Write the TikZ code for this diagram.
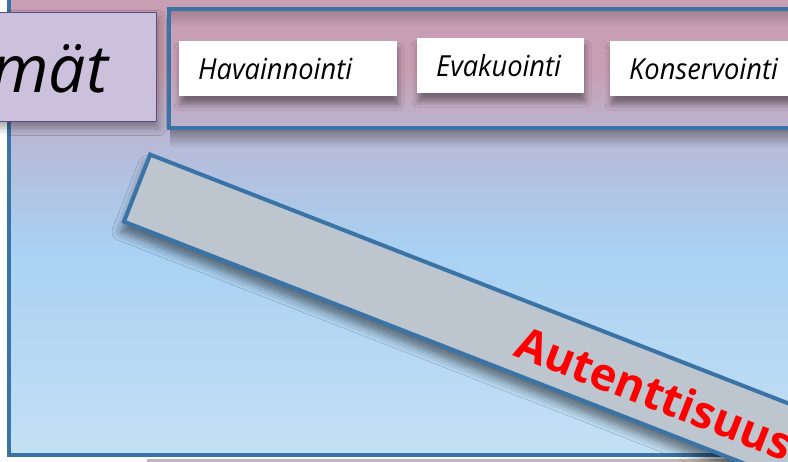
\documentclass[tikz,border=0pt]{standalone}
\usepackage{fontspec}
\setmainfont{Open Sans}
\newfontfamily\tabfont[FakeStretch=0.94]{Open Sans}
\usetikzlibrary{shadows.blur,fadings}

\definecolor{bgpink}{HTML}{C89EB2}
\definecolor{bgmid}{HTML}{B6BCDA}
\definecolor{bgblue}{HTML}{A9D1F3}
\definecolor{bglight}{HTML}{C4E0F4}
\definecolor{edgeblue}{HTML}{3A74A7}
\definecolor{catfill}{HTML}{CCC1DC}
\definecolor{catedge}{HTML}{5C4C7E}
\definecolor{barfill}{HTML}{BDC6CE}

\begin{document}
\begin{tikzpicture}[x=1pt, y=-1pt,
  tab/.style={fill=white, anchor=north west, inner xsep=19pt, inner ysep=0pt, align=left,
    minimum height=55pt, font=\tabfont\itshape\fontsize{29}{32}\selectfont,
    blur shadow={shadow xshift=1pt, shadow yshift=-8pt, shadow opacity=40, shadow blur radius=6pt}},
  framebox/.style={draw=edgeblue, line width=4pt, anchor=north west, inner sep=0pt},
  catbox/.style={draw=catedge, fill=catfill, line width=1.5pt, anchor=north east, inner sep=0pt,
    blur shadow={shadow xshift=2pt, shadow yshift=-6pt, shadow opacity=35, shadow blur radius=8pt}},
  bar/.style={draw=edgeblue, fill=barfill, line width=4pt, inner sep=0pt, rotate=-21.3,
    blur shadow={shadow xshift=-3pt, shadow yshift=-10pt, shadow opacity=50, shadow blur radius=9pt}}]
  \clip (0,0) rectangle (788,462);

  % Background panel (pink at the top, blue below)
  \shade[top color=bgpink, bottom color=bgpink] (9,-30) rectangle (800,70);
  \shade[top color=bgpink, bottom color=bgmid] (9,70) rectangle (800,150);
  \shade[top color=bgmid, bottom color=bgblue] (9,150) rectangle (800,250);
  \shade[top color=bgblue, bottom color=bglight] (9,250) rectangle (800,455);
  \draw[edgeblue, line width=4pt] (9,-30) rectangle (800,455);
  \fill[gray!55] (147,459) rectangle (788,462);

  % Frame round the three steps, with its shadows
  \fill[black, opacity=.35, path fading=south] (170,129) rectangle (830,147);
  \fill[black, opacity=.2, path fading=south] (168,9) rectangle (830,26);
  \node[framebox, minimum width=700pt, minimum height=119pt] (steps) at (167,7) {};

  % Title box, cut at the left edge
  \node[catbox, minimum width=220pt, minimum height=109pt] (cat) at (157,12) {};
  \node[anchor=base east, inner sep=0pt, font=\itshape\fontsize{66}{72}\selectfont] (catlbl) at (108,93) {mät};

  % The three steps
  \node[tab, text width=180pt] (hav) at (179,41) {Havainnointi};
  \node[tab, text width=129pt] (eva) at (417,38) {Evakuointi};
  \node[tab, text width=200pt] (kon) at (610,41) {Konservointi};

  % Slanted bar
  \node[bar, anchor=north west, minimum width=820pt, minimum height=72pt] (aut) at (149,152) {};
  \node[rotate=-21.3, anchor=base west, inner sep=0pt, text=red,
    font=\bfseries\fontsize{45}{50}\selectfont] (autlbl) at (512,355) {Autenttisuus};
\end{tikzpicture}
\end{document}
